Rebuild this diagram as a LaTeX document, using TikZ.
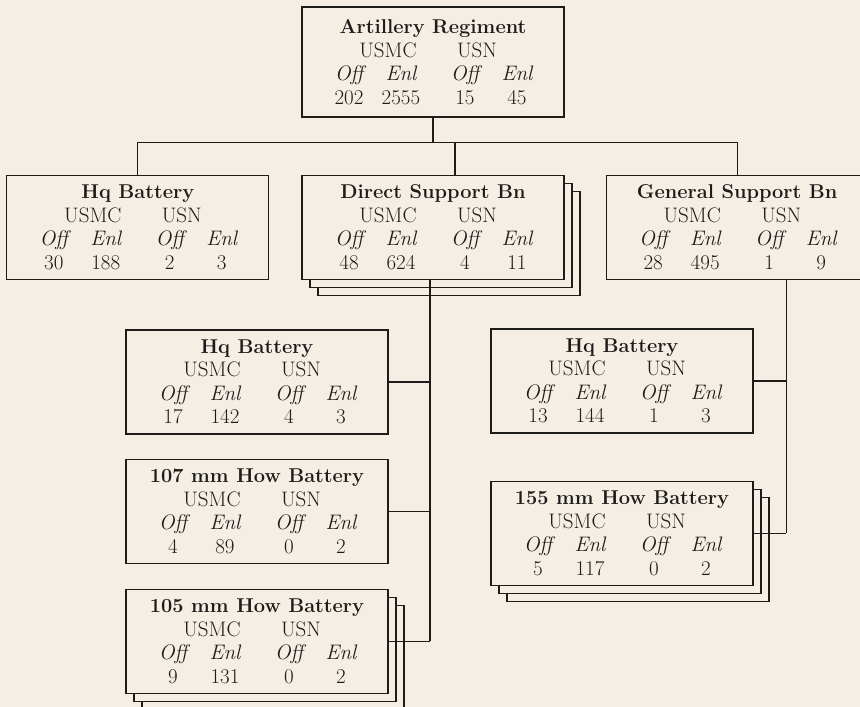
\documentclass[tikz,border=0pt]{standalone}
\usepackage{xcolor}
\usepackage{tikz}
\usetikzlibrary{positioning, shadows}

\definecolor{paper}{RGB}{245,238,229}
\definecolor{ink}{RGB}{30,28,26}

\newcommand{\strength}[5]{%
  {\fontsize{20}{23}\selectfont\bfseries #1}\\
  \makebox[104pt]{\hspace{26pt}USMC}\hspace{12pt}\makebox[104pt]{USN\hspace{28pt}}\\
  {\itshape\makebox[52pt]{Off}\makebox[52pt]{Enl}\hspace{12pt}\makebox[52pt]{Off}\makebox[52pt]{Enl}}\\
  \makebox[52pt]{#2}\makebox[52pt]{#3}\hspace{12pt}\makebox[52pt]{#4}\makebox[52pt]{#5}}

\tikzset{
  unitbox/.style={rectangle, draw=ink, text=ink, fill=paper, minimum width=262pt, minimum height=104pt,
    inner sep=0pt, align=center, font=\fontsize{21}{23.5}\selectfont},
  stacked/.style={copy shadow={shadow xshift=16pt, shadow yshift=-16pt, draw=ink, fill=paper},
    copy shadow={shadow xshift=8pt, shadow yshift=-8pt, draw=ink, fill=paper}}
}

\begin{document}
\begin{tikzpicture}[x=1pt, y=-1pt, line width=1.2pt, draw=ink]
  % Page
  \useasboundingbox (0,0) rectangle (860,707);
  \fill[paper] (0,0) rectangle (860,707);

  % Regiment and battalions
  \node (Reg) [unitbox, minimum height=110pt] at (433,62) {\strength{Artillery Regiment}{202}{2555}{15}{45}};
  \node (DSBn) [unitbox, stacked, below=57pt of Reg] {\strength{Direct Support Bn}{48}{624}{4}{11}};
  \node (HqReg) [unitbox, left=32pt of DSBn] {\strength{Hq Battery}{30}{188}{2}{3}};
  \node (GSBn) [unitbox, right=41pt of DSBn] {\strength{General Support Bn}{28}{495}{1}{9}};

  % Direct support batteries
  \node (DSHq) [unitbox] at (257,382) {\strength{Hq Battery}{17}{142}{4}{3}};
  \node (How107) [unitbox, below=24pt of DSHq] {\strength{107 mm How Battery}{4}{89}{0}{2}};
  \node (How105) [unitbox, stacked, below=25pt of How107] {\strength{105 mm How Battery}{9}{131}{0}{2}};

  % General support batteries
  \node (GSHq) [unitbox] at (622,381) {\strength{Hq Battery}{13}{144}{1}{3}};
  \node (How155) [unitbox, stacked, below=47pt of GSHq] {\strength{155 mm How Battery}{5}{117}{0}{2}};

  % Regiment to battalions
  \draw (Reg.south) -- ++(0,25) coordinate (bus);
  \draw (HqReg.north) |- (GSBn.north |- bus) -- (GSBn.north);
  \coordinate (dsup) at ([xshift=22pt]DSBn.north);
  \draw (dsup) -- (dsup |- bus);

  % Battalions to batteries
  \coordinate (dsdrop) at ([xshift=-3pt]DSBn.south);
  \draw (dsdrop) -- (dsdrop |- How105.east);
  \draw (DSHq.east) -- (DSHq.east -| dsdrop);
  \draw (How107.east) -- (How107.east -| dsdrop);
  \draw (How105.east) -- (How105.east -| dsdrop);
  \coordinate (gsdrop) at ([xshift=49pt]GSBn.south);
  \draw (gsdrop) -- (gsdrop |- How155.east);
  \draw (GSHq.east) -- (GSHq.east -| gsdrop);
  \draw (How155.east) -- (How155.east -| gsdrop);
\end{tikzpicture}
\end{document}
